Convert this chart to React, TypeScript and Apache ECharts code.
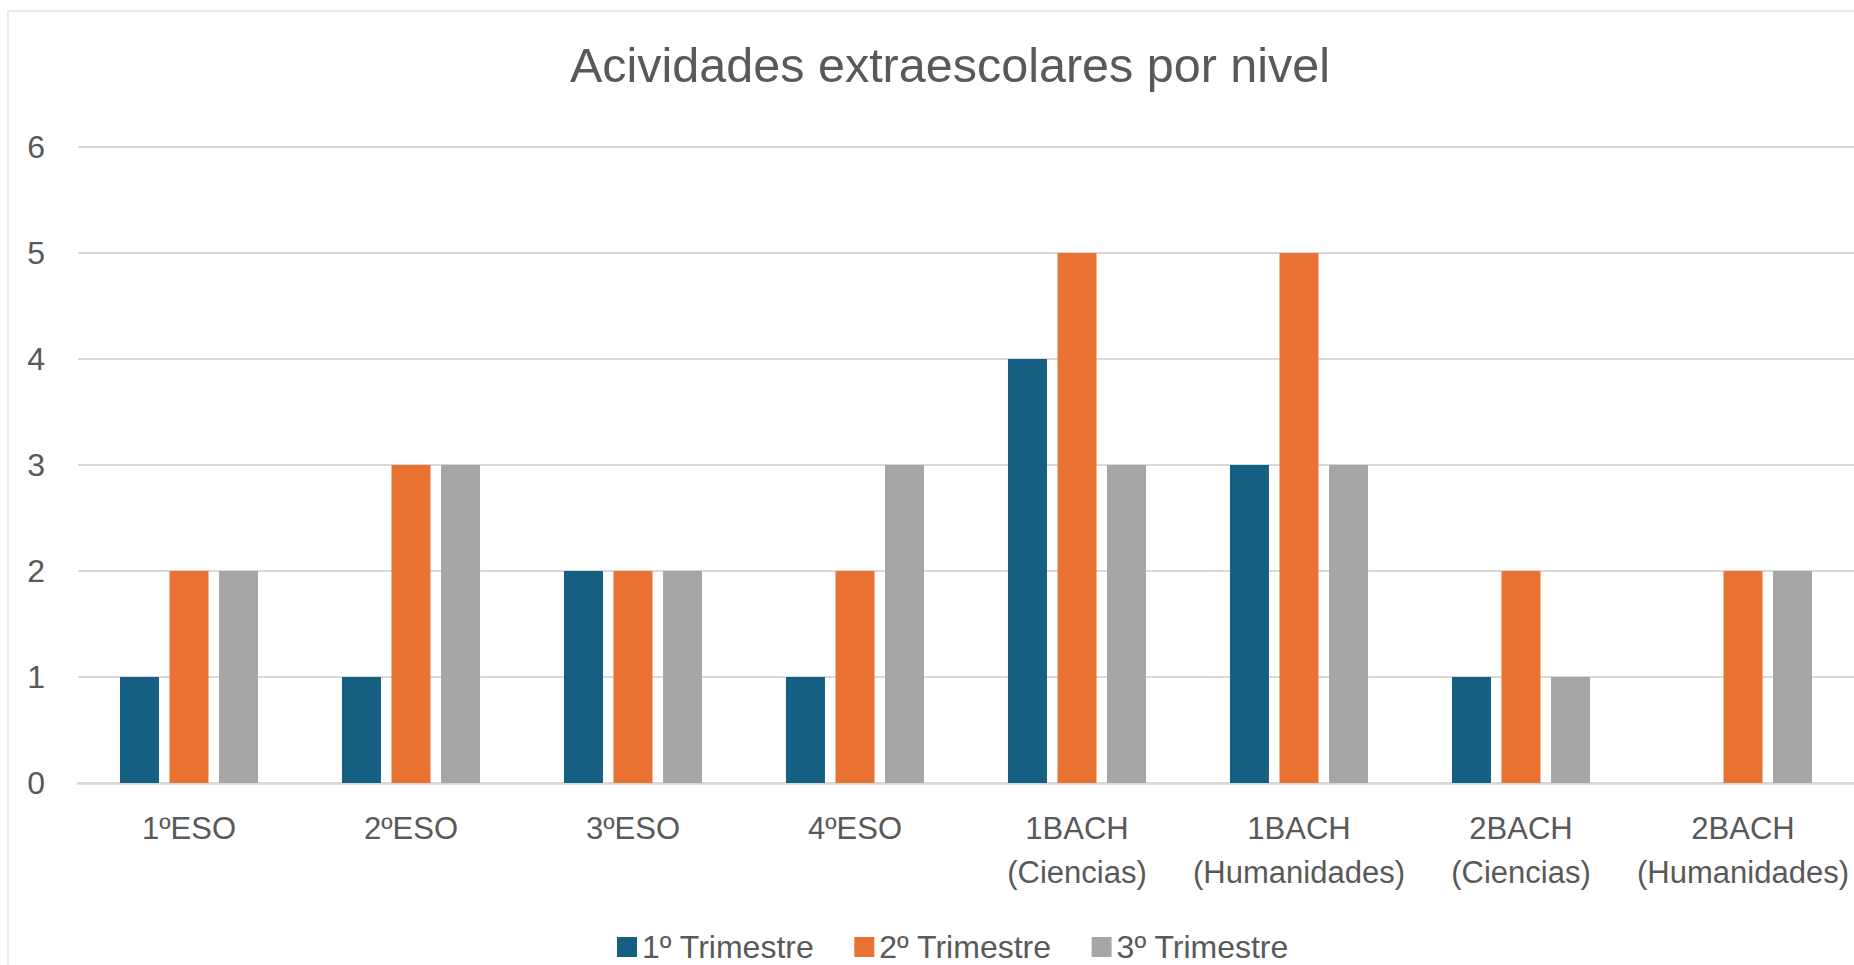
import React, { useEffect, useRef } from "react";
import * as echarts from "echarts";

const categories = [
  "1ºESO",
  "2ºESO",
  "3ºESO",
  "4ºESO",
  "1BACH\n(Ciencias)",
  "1BACH\n(Humanidades)",
  "2BACH\n(Ciencias)",
  "2BACH\n(Humanidades)",
];
const trimestre1 = [1, 1, 2, 1, 4, 3, 1, 0];
const trimestre2 = [2, 3, 2, 2, 5, 5, 2, 2];
const trimestre3 = [2, 3, 2, 3, 3, 3, 1, 2];
const seriesNames = ["1º Trimestre", "2º Trimestre", "3º Trimestre"];
const colors = ["#156082", "#E97132", "#A6A6A6"];

const FONT = "'Liberation Sans', Arial, sans-serif";

export default function App() {
  const ref = useRef<HTMLDivElement>(null);
  useEffect(() => {
    if (!ref.current) return;
    const chart = echarts.init(ref.current, undefined, { renderer: "svg" });
    const values = [trimestre1, trimestre2, trimestre3];
    chart.setOption({
      animation: false,
      backgroundColor: "#ffffff",
      title: {
        text: "Acividades extraescolares por nivel",
        left: 945,
        textAlign: "center",
        top: 35,
        textStyle: { fontFamily: FONT, fontSize: 48.5, fontWeight: "normal", color: "#595959" },
      },
      graphic: [
        {
          type: "rect",
          shape: { x: 8, y: 11, width: 3000, height: 3000 },
          style: { fill: "none", stroke: "#E3E3E3", lineWidth: 1.5 },
          silent: true,
        },
      ],
      legend: {
        top: 931,
        left: 617,
        padding: 0,
        itemWidth: 20,
        itemHeight: 20,
        itemGap: 40,
        icon: "rect",
        data: seriesNames,
        textStyle: { fontFamily: FONT, fontSize: 32, lineHeight: 32, color: "#595959" },
      },
      grid: { left: 78, width: 1778, top: 147, height: 636, containLabel: false },
      xAxis: {
        type: "category",
        data: categories,
        axisTick: { show: false },
        axisLine: { lineStyle: { color: "#D9D9D9", width: 2.5 } },
        axisLabel: {
          interval: 0,
          margin: 23,
          color: "#595959",
          fontFamily: FONT,
          fontSize: 31,
          lineHeight: 44,
        },
      },
      yAxis: {
        type: "value",
        min: 0,
        max: 6,
        interval: 1,
        axisLine: { show: false },
        axisTick: { show: false },
        splitLine: { lineStyle: { color: "#D9D9D9", width: 2 } },
        axisLabel: {
          margin: 33,
          color: "#595959",
          fontFamily: FONT,
          fontSize: 32,
        },
      },
      series: seriesNames.map((name, i) => ({
        name,
        type: "bar",
        data: values[i],
        barWidth: 39,
        barGap: "27%",
        itemStyle: { color: colors[i] },
      })),
    });
    return () => chart.dispose();
  }, []);
  return (
    <div
      ref={ref}
      style={{ position: "fixed", left: 0, top: 0, width: 1854, height: 965 }}
    />
  );
}
